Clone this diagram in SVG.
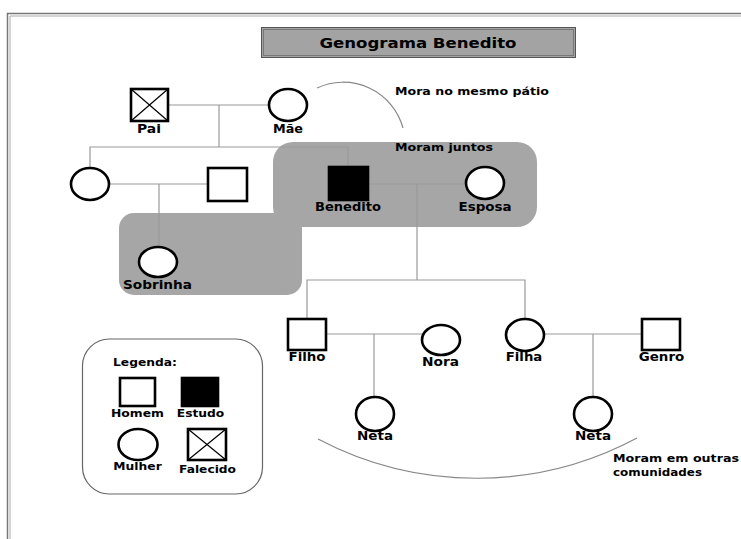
<svg xmlns="http://www.w3.org/2000/svg" width="741" height="539" viewBox="0 0 741 539">
<style>
  text { font-family: "DejaVu Sans", Verdana, sans-serif; font-weight: bold; fill: #000; }
  .lbl { font-size: 11.6px; text-anchor: middle; }
  .leg { font-size: 11.2px; text-anchor: middle; }
  .note { font-size: 11.2px; }
  .shape { fill: #fff; stroke: #000; stroke-width: 2.6; }
  .solid { fill: #000; stroke: #000; stroke-width: 2.6; }
  .cross { stroke: #000; stroke-width: 1.2; }
  .conn { fill: none; stroke: #999; stroke-width: 1.2; }
  .arc { fill: none; stroke: #888; stroke-width: 1.2; }
  .zone { fill: #a6a6a6; }
</style>
<rect x="0" y="0" width="741" height="539" fill="#fff"/>
<!-- frame -->
<path d="M7.5,539 V13.5 H741" fill="none" stroke="#777" stroke-width="1.5"/>
<path d="M10,539 V16 H741" fill="none" stroke="#aaa" stroke-width="1"/>

<!-- title -->
<g id="title">
  <rect x="261.5" y="27.5" width="314" height="30" fill="#a3a3a3" stroke="#555" stroke-width="1"/>
  <rect x="263.5" y="29.5" width="310" height="26" fill="none" stroke="#777" stroke-width="1"/>
  <text x="418" y="48" style="font-size:14.6px" text-anchor="middle" textLength="197" lengthAdjust="spacingAndGlyphs">Genograma Benedito</text>
</g>

<!-- household zones -->
<g id="zones">
  <rect class="zone" x="273" y="142" width="264" height="85" rx="20"/>
  <rect class="zone" x="119" y="213" width="183" height="82" rx="15"/>
  <text class="note" x="395" y="151" textLength="98" lengthAdjust="spacingAndGlyphs">Moram juntos</text>
</g>

<!-- annotations -->
<g id="annotations">
  <path class="arc" d="M317,88 A62,62 0 0 1 403,128"/>
  <text class="note" x="395" y="95" textLength="154" lengthAdjust="spacingAndGlyphs">Mora no mesmo pátio</text>
  <path class="arc" d="M318,439 A340,340 0 0 0 637,438"/>
  <text class="note" x="613" y="462" textLength="126" lengthAdjust="spacingAndGlyphs">Moram em outras</text>
  <text class="note" x="613" y="476" textLength="89" lengthAdjust="spacingAndGlyphs">comunidades</text>
</g>

<!-- connectors -->
<g id="connectors">
  <path class="conn" d="M168,105 H269"/>
  <path class="conn" d="M219,105 V147"/>
  <path class="conn" d="M90,168 V147 H348 V167"/>
  <path class="conn" d="M109,184 H208"/>
  <path class="conn" d="M159,184 V247"/>
  <path class="conn" d="M368,184 H466"/>
  <path class="conn" d="M417,184 V280"/>
  <path class="conn" d="M307,319 V280 H525 V319"/>
  <path class="conn" d="M326,334 H422"/>
  <path class="conn" d="M374,334 V397"/>
  <path class="conn" d="M544,334 H642"/>
  <path class="conn" d="M593,334 V397"/>
</g>

<!-- nodes -->
<g id="pai">
  <rect class="shape" x="131" y="89" width="37" height="32"/>
  <path class="cross" d="M131,89 L168,121 M168,89 L131,121"/>
  <text class="lbl" x="149" y="133" textLength="24" lengthAdjust="spacingAndGlyphs">Pai</text>
</g>
<g id="mae">
  <ellipse class="shape" cx="288" cy="105" rx="19" ry="16"/>
  <text class="lbl" x="288" y="133" textLength="30" lengthAdjust="spacingAndGlyphs">Mãe</text>
</g>
<g id="irma">
  <ellipse class="shape" cx="90" cy="184" rx="19" ry="16"/>
</g>
<g id="cunhado">
  <rect class="shape" x="208" y="168" width="39" height="33"/>
</g>
<g id="benedito">
  <rect class="solid" x="329" y="167" width="39" height="33"/>
  <text class="lbl" x="348" y="210.5" textLength="66" lengthAdjust="spacingAndGlyphs">Benedito</text>
</g>
<g id="esposa">
  <ellipse class="shape" cx="485" cy="183" rx="19" ry="16"/>
  <text class="lbl" x="485" y="210.5" textLength="53" lengthAdjust="spacingAndGlyphs">Esposa</text>
</g>
<g id="sobrinha">
  <ellipse class="shape" cx="158" cy="262" rx="19" ry="15"/>
  <text class="lbl" x="157.5" y="288.5" textLength="69" lengthAdjust="spacingAndGlyphs">Sobrinha</text>
</g>
<g id="filho">
  <rect class="shape" x="288" y="319" width="38" height="31"/>
  <text class="lbl" x="307" y="361" textLength="37" lengthAdjust="spacingAndGlyphs">Filho</text>
</g>
<g id="nora">
  <ellipse class="shape" cx="441" cy="340" rx="19" ry="15"/>
  <text class="lbl" x="440.5" y="365.5" textLength="37" lengthAdjust="spacingAndGlyphs">Nora</text>
</g>
<g id="filha">
  <ellipse class="shape" cx="525" cy="335" rx="19" ry="16"/>
  <text class="lbl" x="524" y="361" textLength="36.5" lengthAdjust="spacingAndGlyphs">Filha</text>
</g>
<g id="genro">
  <rect class="shape" x="642" y="319" width="38" height="31"/>
  <text class="lbl" x="661.5" y="361" textLength="45.5" lengthAdjust="spacingAndGlyphs">Genro</text>
</g>
<g id="neta1">
  <ellipse class="shape" cx="375" cy="414" rx="19" ry="17"/>
  <text class="lbl" x="375" y="439.5" textLength="36" lengthAdjust="spacingAndGlyphs">Neta</text>
</g>
<g id="neta2">
  <ellipse class="shape" cx="593" cy="414" rx="19" ry="17"/>
  <text class="lbl" x="593" y="439.5" textLength="36" lengthAdjust="spacingAndGlyphs">Neta</text>
</g>

<!-- legend -->
<g id="legend">
  <rect x="82.5" y="339" width="180" height="155" rx="27" fill="#fff" stroke="#666" stroke-width="1.2"/>
  <text class="note" x="113" y="365.5" textLength="64" lengthAdjust="spacingAndGlyphs">Legenda:</text>
  <rect class="shape" x="120" y="378" width="35" height="28"/>
  <text class="leg" x="137.5" y="417" textLength="53" lengthAdjust="spacingAndGlyphs">Homem</text>
  <rect class="solid" x="182" y="378" width="36" height="28"/>
  <text class="leg" x="200.5" y="417" textLength="47.5" lengthAdjust="spacingAndGlyphs">Estudo</text>
  <ellipse class="shape" cx="138" cy="444.5" rx="19.5" ry="15.5"/>
  <text class="leg" x="137.5" y="470" textLength="48.5" lengthAdjust="spacingAndGlyphs">Mulher</text>
  <rect class="shape" x="188" y="429" width="38" height="31"/>
  <path class="cross" d="M188,429 L226,460 M226,429 L188,460"/>
  <text class="leg" x="207.5" y="472.5" textLength="57" lengthAdjust="spacingAndGlyphs">Falecido</text>
</g>
</svg>
